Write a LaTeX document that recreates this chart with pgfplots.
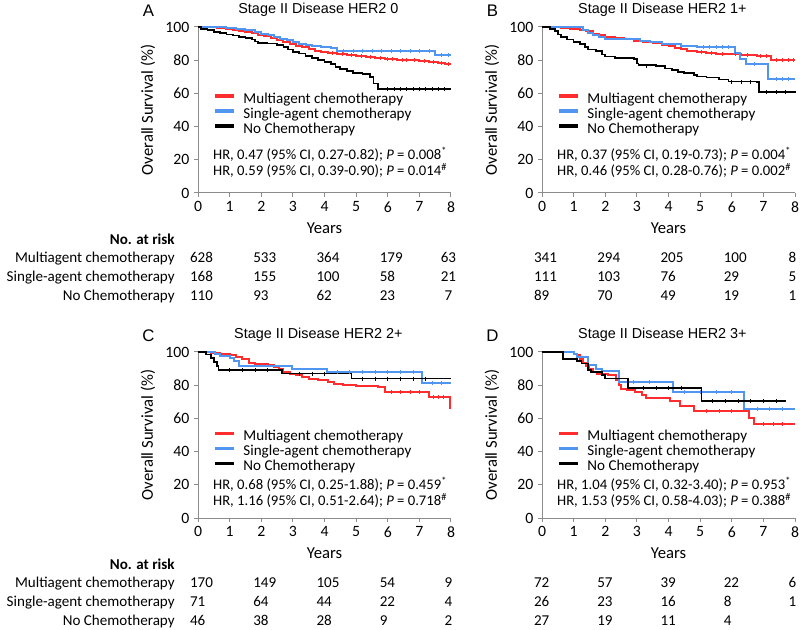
\documentclass[border=0pt]{standalone}
\usepackage{fontspec}
\setmainfont{Carlito}
\newfontfamily\arialfont{Liberation Sans}
\usepackage{pgfplots}
\pgfplotsset{compat=1.18}
\definecolor{kmred}{RGB}{255,45,45}
\definecolor{kmblue}{RGB}{80,150,240}
\definecolor{axgray}{RGB}{140,140,140}
\newcommand{\fs}{\fontsize{11.3}{13.5}\selectfont}
\newcommand{\hrfs}{\fontsize{11}{13}\selectfont}
\newcommand{\tfs}{\arialfont\fontsize{10.8}{13}\selectfont}

\pgfplotsset{km/.style={
  width=189.75pt, height=124.5pt, scale only axis,
  xmin=0, xmax=8, ymin=0, ymax=100,
  xtick={0,...,8}, ytick={0,20,...,100},
  axis lines*=left,
  axis line style={axgray, line width=0.75pt},
  tick style={axgray, line width=0.75pt},
  tick align=outside, major tick length=3pt,
  /pgf/number format/assume math mode=true,
  ticklabel style={font=\fontsize{11.8}{14}\selectfont, text=black},
  label style={font=\fontsize{12.5}{15}\selectfont},
  xlabel={Years},
  xlabel style={at={(axis description cs:0.5,-0.21)}, anchor=center},
  ylabel={Overall Survival (\%)},
  ylabel style={at={(axis description cs:-0.198,0.5)}, anchor=center},
  every axis title/.style={at={(axis description cs:0.476,1.102)}, anchor=center, font=\tfs},
  clip=false,
  legend cell align=left,
  legend style={draw=none, fill=none, font=\fs, inner sep=0pt, row sep=0pt, column sep=6pt,
    nodes={inner sep=0pt, text height=8pt, text depth=3.25pt}},
  legend image code/.code={\draw[##1, line width=2.5pt] (0pt,2.8pt) -- (14.25pt,2.8pt);},
  every axis plot/.append style={const plot},
  cens/.style={forget plot, only marks, mark=|, mark size=1.5pt, mark options={line width=0.5pt}},
}}

% no. at risk rows: baseline y, then values at 0,2,4,6,8 years
\newcommand{\riskrow}[6]{%
  \node[anchor=base west, font=\fs, inner sep=0pt] at (axis cs:-0.26,#1) {#2};
  \node[anchor=base west, font=\fs, inner sep=0pt] at (axis cs:1.74,#1) {#3};
  \node[anchor=base west, font=\fs, inner sep=0pt] at (axis cs:3.74,#1) {#4};
  \node[anchor=base west, font=\fs, inner sep=0pt] at (axis cs:5.74,#1) {#5};
  \node[anchor=base, font=\fs, inner sep=0pt] at (axis cs:7.92,#1) {#6};}
\newcommand{\risklabels}{%
  \node[anchor=base east, font=\fs\bfseries, inner sep=0pt] at (axis cs:-0.73,-31) {No. at risk};
  \node[anchor=base east, font=\fs, inner sep=0pt] at (axis cs:-0.73,-41.9) {Multiagent chemotherapy};
  \node[anchor=base east, font=\fs, inner sep=0pt] at (axis cs:-0.73,-53.3) {Single-agent chemotherapy};
  \node[anchor=base east, font=\fs, inner sep=0pt] at (axis cs:-0.73,-64.8) {No Chemotherapy};}
\newcommand{\hr}[3]{%
  \node[anchor=base west, font=\hrfs, inner sep=0pt] at (axis cs:0.47,#1) {#2};
  \node[anchor=base west, font=\hrfs, inner sep=0pt] at (axis cs:0.47,#1-9.7) {#3};}
\newcommand{\letter}[2]{\node[font=\arialfont\fontsize{12.6}{15}\selectfont] at (axis description cs:-0.196,#1) {#2};}

\begin{document}
\begin{tikzpicture}
\useasboundingbox (0,0) rectangle (600pt,471.75pt);

% ---- A ----
\begin{axis}[km, at={(148.5pt,327pt)}, anchor=south west,
  title={Stage II Disease HER2 0},
  legend style={at={(axis cs:0.47,60.8)}, anchor=north west}]
\addplot[kmred, line width=1.5pt] coordinates {(0,100)(0.3,99.7)(0.6,99.3)(0.9,98.8)(1.1,98.2)(1.3,97.6)(1.5,97)(1.7,96.2)(1.9,95.4)(2.1,94.5)(2.3,93.3)(2.5,92)(2.7,91)(2.9,89.8)(3.1,88.8)(3.3,87.8)(3.5,86.8)(3.7,85.8)(3.9,85)(4.1,84.4)(4.4,84)(4.7,83.4)(5.0,82.8)(5.3,82)(5.6,81.3)(5.9,80.8)(6.3,80.4)(6.7,80)(7.0,79.6)(7.3,79.2)(7.6,78.5)(7.8,77.8)(8.0,77.8)};
\addlegendentry{Multiagent chemotherapy}
\addplot[kmblue, line width=1.5pt] coordinates {(0,100)(0.5,99.7)(0.9,99.3)(1.2,98.6)(1.5,98)(1.8,97)(2.0,96)(2.2,95)(2.4,93.8)(2.6,93)(2.8,92)(3.0,91)(3.2,90)(3.4,89)(3.6,88.4)(3.9,87.8)(4.2,87.3)(4.4,85.8)(7.5,83)(8,83)};
\addlegendentry{Single-agent chemotherapy}
\addplot[black, line width=1.3pt] coordinates {(0,100)(0.1,98.8)(0.3,98)(0.5,97)(0.7,96.2)(0.9,95.5)(1.1,94.8)(1.3,94)(1.5,93.3)(1.7,92.4)(1.8,91.3)(1.9,90.4)(2.2,90)(2.5,89.2)(2.7,88)(2.85,86.5)(3.0,85)(3.2,84)(3.4,82.5)(3.6,81.5)(3.8,80.2)(4.0,79)(4.2,77.6)(4.35,76)(4.5,74.5)(4.7,73.5)(4.9,72.5)(5.2,71.5)(5.45,70)(5.55,66)(5.7,62.6)(8,62.6)};
\addlegendentry{No Chemotherapy}
\addplot[kmred, cens] coordinates {(4.25,84.4)(4.55,84)(4.85,83.4)(5.15,82.8)(5.45,82)(5.75,81.3)(6.0,80.8)(6.15,80.8)(6.45,80.4)(6.6,80.4)(6.85,80)(7.15,79.6)(7.45,79.2)(7.7,78.5)(7.9,77.8)};
\addplot[kmblue, cens] coordinates {(4.6,85.8)(4.9,85.8)(5.2,85.8)(5.5,85.8)(5.8,85.8)(6.1,85.8)(6.4,85.8)(6.7,85.8)(7.0,85.8)(7.3,85.8)(7.7,83)(7.9,83)};
\addplot[black, cens] coordinates {(6.0,62.6)(6.2,62.6)(6.4,62.6)(6.6,62.6)(6.8,62.6)(7.0,62.6)(7.2,62.6)(7.4,62.6)(7.6,62.6)(7.8,62.6)};
\hr{20.2}{HR, 0.47 (95\% CI, 0.27-0.82); \textit{P} = 0.008\textsuperscript{*}}{HR, 0.59 (95\% CI, 0.39-0.90); \textit{P} = 0.014\textsuperscript{\#}}
\letter{1.096}{A}
\risklabels
\riskrow{-41.9}{628}{533}{364}{179}{63}
\riskrow{-53.3}{168}{155}{100}{58}{21}
\riskrow{-64.8}{110}{93}{62}{23}{7}
\end{axis}

% ---- B ----
\begin{axis}[km, at={(406.5pt,327pt)}, anchor=south west,
  title={Stage II Disease HER2 1+},
  legend style={at={(axis cs:0.47,60.8)}, anchor=north west}]
\addplot[kmred, line width=1.5pt] coordinates {(0,100)(0.6,99.6)(0.9,99)(1.2,98.3)(1.4,97.4)(1.6,96)(1.8,95)(2.0,94.2)(2.3,93.5)(2.6,92.8)(2.9,91.8)(3.2,91)(3.5,90.2)(3.8,89.3)(4.0,88.5)(4.2,87.5)(4.4,86.5)(4.6,85.8)(4.9,85)(5.2,84.6)(5.5,84)(5.9,83.5)(6.3,83)(6.8,82.6)(7.25,80.2)(8,80.2)};
\addlegendentry{Multiagent chemotherapy}
\addplot[kmblue, line width=1.5pt] coordinates {(0,100)(1.3,98)(1.45,96.5)(1.6,95)(1.8,93.8)(2.0,93)(2.9,92.6)(3.1,91.5)(3.4,90.8)(3.8,90)(4.2,89.5)(4.4,88.8)(4.9,87.8)(6.1,84.5)(6.25,81)(6.45,77.5)(7.15,68.8)(8,68.8)};
\addlegendentry{Single-agent chemotherapy}
\addplot[black, line width=1.3pt] coordinates {(0,100)(0.25,99)(0.4,97.5)(0.5,95.5)(0.6,94)(0.8,92.5)(1.0,91)(1.2,89.8)(1.35,88)(1.45,86.5)(1.7,85.5)(1.9,83.5)(2.0,82.2)(2.3,81.5)(2.9,80.6)(3.0,78)(3.05,77)(3.6,76.5)(3.9,75)(4.1,74)(4.3,73)(4.5,72.2)(4.8,71)(4.9,70.2)(5.2,69.5)(5.6,68.3)(5.9,67.2)(6.8,66.8)(6.85,61)(8,60.8)};
\addlegendentry{No Chemotherapy}
\addplot[kmred, cens] coordinates {(5.05,85)(5.35,84.6)(5.7,84)(6.1,83.5)(6.5,83)(6.9,82.6)(7.1,82.6)(7.4,80.2)(7.6,80.2)(7.8,80.2)(7.95,80.2)};
\addplot[kmblue, cens] coordinates {(5.1,87.8)(5.3,87.8)(5.5,87.8)(5.7,87.8)(5.9,87.8)(6.7,77.5)(7.4,68.8)(7.6,68.8)(7.8,68.8)};
\addplot[black, cens] coordinates {(3.3,76.5)(6.0,66.8)(6.3,66.8)(6.6,66.8)(7.1,60.8)(7.4,60.8)(7.7,60.8)};
\hr{20.2}{HR, 0.37 (95\% CI, 0.19-0.73); \textit{P} = 0.004\textsuperscript{*}}{HR, 0.46 (95\% CI, 0.28-0.76); \textit{P} = 0.002\textsuperscript{\#}}
\letter{1.096}{B}
\riskrow{-41.9}{341}{294}{205}{100}{8}
\riskrow{-53.3}{111}{103}{76}{29}{5}
\riskrow{-64.8}{89}{70}{49}{19}{1}
\end{axis}

% ---- C ----
\begin{axis}[km, at={(148.5pt,83.25pt)}, anchor=south west,
  title={Stage II Disease HER2 2+},
  legend style={at={(axis cs:0.47,53.2)}, anchor=north west}]
\addplot[kmred, line width=1.5pt] coordinates {(0,100)(0.4,99.5)(0.7,99)(1.0,98)(1.2,97)(1.4,95.5)(1.6,93.5)(1.8,92.5)(2.2,92)(2.4,91)(2.55,89.5)(2.7,88)(2.9,87)(3.1,86)(3.3,85)(3.5,84)(3.8,83)(4.1,82)(4.3,81)(4.6,80)(5.0,79.5)(5.7,79)(5.9,76)(7.3,73)(7.96,66)(8,66)};
\addlegendentry{Multiagent chemotherapy}
\addplot[kmblue, line width=1.5pt] coordinates {(0,100)(0.55,98.5)(0.7,97.5)(1.0,96.5)(1.15,94.5)(1.3,91.5)(2.98,90)(4.07,88)(7.07,81.5)(8,81.5)};
\addlegendentry{Single-agent chemotherapy}
\addplot[black, line width=1.3pt] coordinates {(0,100)(0.25,98.5)(0.4,96.5)(0.5,94)(0.6,91.5)(0.65,89.3)(2.65,87)(4.85,84)(8,84)};
\addlegendentry{No Chemotherapy}
\addplot[kmred, cens] coordinates {(6.1,76)(6.4,76)(6.7,76)(7.0,76)(7.45,73)(7.6,73)(7.75,73)};
\addplot[kmblue, cens] coordinates {(4.4,88)(4.8,88)(5.2,88)(5.6,88)(6.0,88)(6.4,88)(6.8,88)(7.4,81.5)(7.7,81.5)};
\addplot[black, cens] coordinates {(1.0,89.3)(1.4,89.3)(1.8,89.3)(2.2,89.3)(3.2,87)(3.6,87)(4.0,87)(5.2,84)(5.6,84)(6.0,84)(6.4,84)(6.8,84)(7.2,84)};
\hr{17.2}{HR, 0.68 (95\% CI, 0.25-1.88); \textit{P} = 0.459\textsuperscript{*}}{HR, 1.16 (95\% CI, 0.51-2.64); \textit{P} = 0.718\textsuperscript{\#}}
\letter{1.1}{C}
\risklabels
\riskrow{-41.9}{170}{149}{105}{54}{9}
\riskrow{-53.3}{71}{64}{44}{22}{4}
\riskrow{-64.8}{46}{38}{28}{9}{2}
\end{axis}

% ---- D ----
\begin{axis}[km, at={(406.5pt,83.25pt)}, anchor=south west,
  title={Stage II Disease HER2 3+},
  legend style={at={(axis cs:0.47,53.2)}, anchor=north west}]
\addplot[kmred, line width=1.5pt] coordinates {(0,100)(1.0,99)(1.1,98)(1.2,96)(1.3,93.5)(1.4,91.5)(1.5,89.5)(1.6,88)(1.75,87)(2.1,86)(2.35,83)(2.45,80)(2.5,78)(2.7,77)(2.95,76)(3.15,74)(3.3,72.5)(3.5,72)(4.05,70.5)(4.35,67.5)(4.8,64.5)(6.55,60.5)(6.7,56.4)(8,56.4)};
\addlegendentry{Multiagent chemotherapy}
\addplot[kmblue, line width=1.5pt] coordinates {(0,100)(1.0,98.5)(1.1,97)(1.45,92)(1.7,90)(1.9,88.5)(2.45,82)(4.14,76)(6.4,65.8)(8,65.8)};
\addlegendentry{Single-agent chemotherapy}
\addplot[black, line width=1.3pt] coordinates {(0,100)(0.66,96)(1.1,94.5)(1.25,93)(1.45,89)(1.55,88)(1.9,86)(2.0,84)(2.72,78.5)(5.04,70.5)(7.7,70.5)};
\addlegendentry{No Chemotherapy}
\addplot[kmred, cens] coordinates {(5.2,64.5)(5.6,64.5)(6.0,64.5)(7.0,56.4)(7.3,56.4)(7.6,56.4)};
\addplot[kmblue, cens] coordinates {(2.9,82)(3.4,82)(4.5,76)(5.0,76)(5.5,76)(6.0,76)(6.8,65.8)(7.2,65.8)(7.6,65.8)};
\addplot[black, cens] coordinates {(3.2,78.5)(3.6,78.5)(4.0,78.5)(4.4,78.5)(5.4,70.5)(5.8,70.5)(6.2,70.5)(6.6,70.5)(7.0,70.5)(7.4,70.5)};
\hr{17.2}{HR, 1.04 (95\% CI, 0.32-3.40); \textit{P} = 0.953\textsuperscript{*}}{HR, 1.53 (95\% CI, 0.58-4.03); \textit{P} = 0.388\textsuperscript{\#}}
\letter{1.1}{D}
\riskrow{-41.9}{72}{57}{39}{22}{6}
\riskrow{-53.3}{26}{23}{16}{8}{1}
\riskrow{-64.8}{27}{19}{11}{4}{}
\end{axis}
\end{tikzpicture}
\end{document}
